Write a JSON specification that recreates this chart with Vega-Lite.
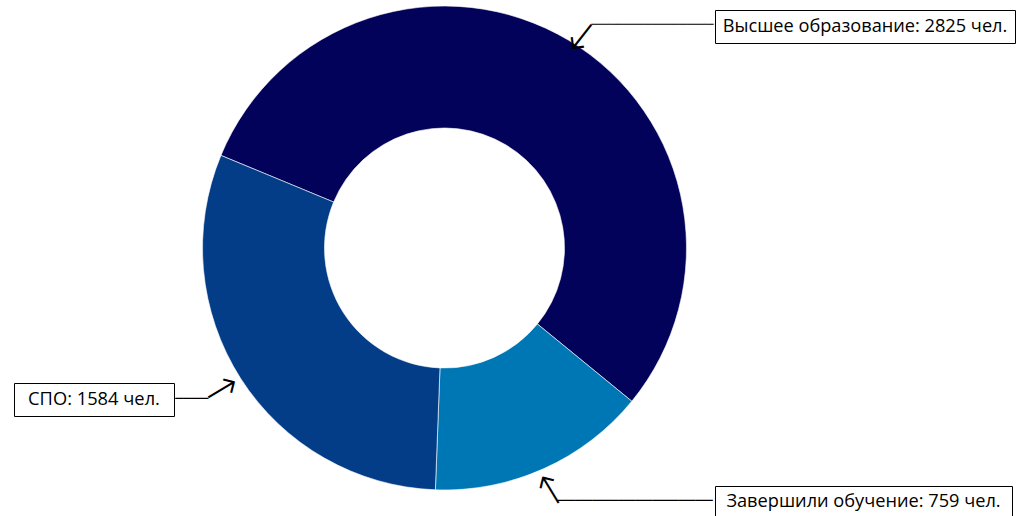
{
  "$schema": "https://vega.github.io/schema/vega-lite/v6.json",
  "padding": {"left": 13, "top": 4, "right": 0, "bottom": 0},
  "autosize": {"type": "pad"},
  "background": "white",
  "config": {"view": {"stroke": null}, "text": {"font": "Open Sans"}},
  "datasets": {
    "slices": [
      {"category": "Высшее образование", "value": 2825, "label": "Высшее образование: 2825 чел."},
      {"category": "Завершили обучение", "value": 759, "label": "Завершили обучение: 759 чел."},
      {"category": "СПО", "value": 1584, "label": "СПО: 1584 чел."}
    ]
  },
  "spacing": 0,
  "hconcat": [
    {
      "spacing": 0,
      "bounds": "flush",
      "vconcat": [
        {"width": 160, "height": 377, "data": {"values": []}, "mark": {"type": "text", "text": ""}},
        {
          "width": 160, "height": 33,
          "data": {"name": "slices"},
          "transform": [{"filter": {"field": "category", "equal": "СПО"}}],
          "view": {"stroke": "black", "strokeWidth": 1, "fill": "white"},
          "mark": {"type": "text", "fontSize": 18.3, "font": "Open Sans", "color": "black"},
          "encoding": {"text": {"field": "label"}}
        }
      ]
    },
    {
      "width": 539, "height": 484,
      "data": {"name": "slices"},
      "encoding": {
        "theta": {"field": "value", "type": "quantitative", "stack": true, "scale": {"range": [-1.1781, 5.1051]}},
        "detail": {"field": "category"}
      },
      "layer": [
        {
          "mark": {"type": "arc", "outerRadius": 242, "innerRadius": 120, "stroke": "white", "strokeWidth": 0.6},
          "encoding": {
            "color": {"field": "category", "type": "nominal", "legend": null,
              "scale": {"domain": ["Высшее образование", "Завершили обучение", "СПО"], "range": ["#02025a", "#0077b5", "#033d87"]}}
          }
        },
        {
          "mark": {"type": "text", "radius": 251.4, "font": "DejaVu Sans", "fontWeight": 200, "align": "center", "baseline": "middle", "angle": -52, "dx": 1.8, "dy": 9.4, "color": "black"},
          "encoding": {
            "text": {"condition": {"test": "datum.category === 'Высшее образование'", "value": "←"}, "value": ""},
            "size": {"condition": {"test": "datum.category === 'Высшее образование'", "value": 42}, "value": 0}
          }
        },
        {
          "mark": {"type": "text", "radius": 263.9, "font": "DejaVu Sans", "fontWeight": 200, "align": "center", "baseline": "middle", "angle": 58.7, "dx": 0, "dy": 3, "color": "black"},
          "encoding": {
            "text": {"condition": {"test": "datum.category === 'Завершили обучение'", "value": "←"}, "value": ""},
            "size": {"condition": {"test": "datum.category === 'Завершили обучение'", "value": 42}, "value": 0}
          }
        },
        {
          "mark": {"type": "text", "radius": 264.4, "font": "DejaVu Sans", "fontWeight": 200, "align": "center", "baseline": "middle", "angle": 149.3, "dx": 0, "dy": 1.4, "color": "black"},
          "encoding": {
            "text": {"condition": {"test": "datum.category === 'СПО'", "value": "←"}, "value": ""},
            "size": {"condition": {"test": "datum.category === 'СПО'", "value": 42}, "value": 0}
          }
        },
        {
          "mark": {"type": "text", "radius": 258.4, "font": "DejaVu Sans", "align": "left", "baseline": "middle", "dx": 14, "dy": -1, "color": "black"},
          "encoding": {
            "text": {"condition": {"test": "datum.category === 'Высшее образование'", "value": "──────────────"}, "value": ""},
            "size": {"condition": {"test": "datum.category === 'Высшее образование'", "value": 14.5}, "value": 0}
          }
        },
        {
          "mark": {"type": "text", "radius": 277.8, "font": "DejaVu Sans", "align": "left", "baseline": "middle", "dx": -1, "color": "black"},
          "encoding": {
            "text": {"condition": {"test": "datum.category === 'Завершили обучение'", "value": "──────────────────"}, "value": ""},
            "size": {"condition": {"test": "datum.category === 'Завершили обучение'", "value": 14.3}, "value": 0}
          }
        },
        {
          "mark": {"type": "text", "radius": 280.6, "font": "DejaVu Sans", "align": "right", "baseline": "middle", "dx": 0, "color": "black"},
          "encoding": {
            "text": {"condition": {"test": "datum.category === 'СПО'", "value": "────"}, "value": ""},
            "size": {"condition": {"test": "datum.category === 'СПО'", "value": 13.7}, "value": 0}
          }
        }
      ]
    },
    {
      "spacing": 0,
      "bounds": "flush",
      "vconcat": [
        {"width": 300, "height": 4, "data": {"values": []}, "mark": {"type": "text", "text": ""}},
        {
          "width": 300, "height": 33,
          "data": {"name": "slices"},
          "transform": [{"filter": {"field": "category", "equal": "Высшее образование"}}],
          "view": {"stroke": "black", "strokeWidth": 1, "fill": "white"},
          "mark": {"type": "text", "fontSize": 18.2, "font": "Open Sans", "color": "black"},
          "encoding": {"text": {"field": "label"}}
        },
        {"width": 300, "height": 443, "data": {"values": []}, "mark": {"type": "text", "text": ""}},
        {
          "width": 297, "height": 32,
          "data": {"name": "slices"},
          "transform": [{"filter": {"field": "category", "equal": "Завершили обучение"}}],
          "view": {"stroke": "black", "strokeWidth": 1, "fill": "white"},
          "mark": {"type": "text", "fontSize": 18.2, "font": "Open Sans", "color": "black"},
          "encoding": {"text": {"field": "label"}}
        }
      ]
    }
  ]
}
